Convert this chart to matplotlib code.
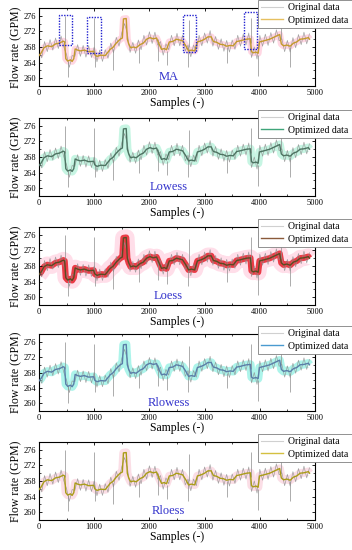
import matplotlib
matplotlib.use("Agg")
import matplotlib.pyplot as plt
from matplotlib.lines import Line2D
from matplotlib.patches import Rectangle
from matplotlib.ticker import MultipleLocator

plt.rcParams['font.family'] = ['Liberation Serif', 'DejaVu Serif']

# ---- data ----
methods = ["MA", "Lowess", "Loess", "Rlowess", "Rloess"]

# optimized (smoothed) curve
smooth_x = [0, 40, 90, 150, 230, 300, 370, 440, 465, 485, 520, 570, 600, 630, 655,
            700, 750, 820, 900, 990, 1010, 1050, 1120, 1200, 1290, 1340, 1400, 1470,
            1510, 1530, 1580, 1600, 1625, 1660, 1710, 1760, 1830, 1890, 1950, 2010,
            2070, 2130, 2180, 2220, 2270, 2310, 2360, 2420, 2490, 2600, 2660, 2710,
            2760, 2820, 2870, 2940, 3000, 3060, 3120, 3160, 3220, 3280, 3340, 3400,
            3460, 3520, 3580, 3650, 3700, 3760, 3830, 3850, 3880, 3930, 3970, 3995,
            4080, 4180, 4240, 4300, 4360, 4390, 4430, 4490, 4550, 4610, 4670, 4730,
            4800, 4880, 4900]
smooth_y = [265.8, 266.5, 267.8, 268.3, 268.1, 268.8, 269.0, 269.5, 269.3, 265.0,
            264.4, 264.7, 264.3, 265.0, 267.5, 267.2, 267.0, 267.2, 266.8, 266.9,
            266.0, 265.6, 265.9, 265.8, 267.4, 267.9, 269.0, 270.0, 270.3, 275.2,
            275.3, 270.0, 268.8, 267.8, 268.0, 267.8, 268.6, 269.0, 270.0, 270.4,
            270.1, 270.3, 268.6, 267.4, 267.6, 267.3, 269.3, 269.4, 270.0, 269.6,
            268.3, 267.0, 267.2, 267.0, 269.3, 269.6, 270.0, 270.6, 270.6, 269.4,
            269.2, 268.7, 268.6, 268.2, 268.4, 268.3, 269.4, 269.6, 269.8, 270.0,
            270.1, 266.8, 266.5, 266.7, 266.4, 269.3, 269.6, 270.0, 270.4, 270.8,
            271.2, 268.8, 268.3, 268.5, 268.2, 269.0, 269.3, 270.0, 270.1, 270.4,
            270.0]

# original data, sampled every 50 samples (alternating high / low excursions)
orig_x = list(range(0, 4901, 50))
orig_y = [267.0, 265.2, 269.4, 266.8, 269.9, 267.2, 270.3, 267.6, 270.8, 268.0,
          266.0, 262.8, 265.8, 265.6, 268.6, 265.6, 268.4, 265.4, 268.3, 265.3,
          268.0, 264.2, 267.2, 264.3, 267.3, 265.1, 269.0, 266.5, 270.5, 268.2,
          271.7, 274.0, 271.5, 266.6, 269.2, 266.4, 269.8, 267.3, 271.0, 268.5,
          271.9, 268.9, 271.8, 268.5, 269.4, 265.9, 268.8, 267.3, 271.0, 268.3,
          271.5, 268.3, 271.0, 267.0, 268.5, 265.5, 268.5, 266.8, 271.0, 268.3,
          271.6, 269.0, 272.2, 268.2, 270.7, 267.4, 270.1, 266.9, 269.7, 266.7,
          269.8, 267.4, 271.0, 268.2, 271.3, 268.5, 271.6, 265.3, 268.0, 264.9,
          271.0, 268.2, 271.3, 268.4, 271.7, 269.0, 272.4, 269.6, 270.1, 266.8,
          269.7, 266.7, 270.4, 267.8, 271.2, 268.6, 271.8, 268.8, 271.4]

spike_x = [470, 520, 1005, 1020, 1345, 1820, 2150, 2320, 2700, 2720, 3410, 3835,
           3970, 4385, 4545]
spike_lo = [269.0, 260.2, 266.5, 263.0, 262.0, 264.0, 264.5, 263.5, 263.0, 268.0,
            264.0, 269.0, 260.5, 270.0, 263.0]
spike_hi = [276.0, 264.5, 275.5, 266.0, 267.5, 268.0, 270.0, 267.0, 268.0, 275.0,
            268.0, 275.5, 266.0, 273.5, 268.0]

# boxes in MA panel: x0, x1, y0, y1
box_x0 = [357, 875, 2603, 3714]
box_x1 = [598, 1118, 2844, 3955]
box_y0 = [268.5, 266.4, 266.8, 267.4]
box_y1 = [276.2, 275.7, 276.1, 276.9]

x_ticks = [0, 1000, 2000, 3000, 4000, 5000]
y_ticks = [260, 264, 268, 272, 276]

# ---- styles ----
line_colors = ["#c49a2c", "#4d7462", "#5b4a22", "#5a7ea8", "#aa9c18"]
legend_colors = ["#e6c060", "#3fa57a", "#8a5a3a", "#4a9ad0", "#d4c040"]
band_colors = ["#ffb0c8", "#b0f2d8", "#e8202a", "#8af0e2", "#f8c4d2"]
band_widths = [5.0, 6.0, 4.5, 6.0, 6.0]
band_alpha = [0.5, 0.7, 0.85, 0.7, 0.55]
wide_band = [None, None, "#ffd0e0", None, None]
orig_color = "#8e8e8e"
label_color = "#3333cc"

W, H = 352, 550
fig = plt.figure(figsize=(W / 100, H / 100), dpi=100)
tops = [8, 118, 227, 334, 442]
bots = [86, 196, 305, 411, 520]
left, right = 39, 315

for i, m in enumerate(methods):
    ax = fig.add_axes([left / W, 1 - bots[i] / H, (right - left) / W, (bots[i] - tops[i]) / H])
    if wide_band[i]:
        ax.plot(smooth_x, smooth_y, color=wide_band[i], lw=12, alpha=0.7,
                solid_capstyle='butt', zorder=1)
    ax.plot(smooth_x, smooth_y, color=band_colors[i], lw=band_widths[i],
            alpha=band_alpha[i], solid_capstyle='butt', zorder=1.5)
    ax.plot(orig_x, orig_y, color=orig_color, lw=0.5, alpha=0.8, zorder=2)
    ax.vlines(spike_x, spike_lo, spike_hi, color=orig_color, lw=0.6, alpha=0.85, zorder=2)
    ax.plot(smooth_x, smooth_y, color=line_colors[i], lw=1.0, zorder=3)

    if i == 0:
        for bx0, bx1, by0, by1 in zip(box_x0, box_x1, box_y0, box_y1):
            ax.add_patch(Rectangle((bx0, by0), bx1 - bx0, by1 - by0, fill=False,
                                   edgecolor="#2020d0", lw=1.0, ls=(0, (1, 1)),
                                   zorder=5, clip_on=False))

    ax.set_xlim(0, 5000)
    ax.set_ylim(258, 278)
    ax.set_xticks(x_ticks)
    ax.set_yticks(y_ticks)
    ax.xaxis.set_minor_locator(MultipleLocator(500))
    ax.yaxis.set_minor_locator(MultipleLocator(2))
    ax.tick_params(which='both', direction='in', top=True, right=True,
                   labelsize=6, pad=2)
    ax.tick_params(which='major', length=2.5, width=0.6)
    ax.tick_params(which='minor', length=1.5, width=0.5)
    for s in ax.spines.values():
        s.set_linewidth(0.8)
    ax.set_xlabel("Samples (-)", fontsize=8.5, labelpad=0)
    ax.set_ylabel("Flow rate (GPM)", fontsize=8.5, labelpad=2)
    ax.text(2350, 260.2, m, color=label_color, fontsize=9, ha='center', va='center')

    handles = [Line2D([], [], color="#d0d0d0", lw=0.8),
               Line2D([], [], color=legend_colors[i], lw=1.0)]
    leg = fig.legend(handles, ["Original data", "Optimized data"], loc='upper right',
                     bbox_to_anchor=(1.0, 1 - (tops[i] - 8) / H),
                     bbox_transform=fig.transFigure, fontsize=7, frameon=True,
                     fancybox=False, edgecolor="#808080", framealpha=1,
                     borderpad=0.35, handlelength=2.3, handletextpad=0.5,
                     labelspacing=0.35, borderaxespad=0)
    leg.get_frame().set_linewidth(0.6)
    leg.set_zorder(10)

fig.savefig("out.png", dpi=100)
